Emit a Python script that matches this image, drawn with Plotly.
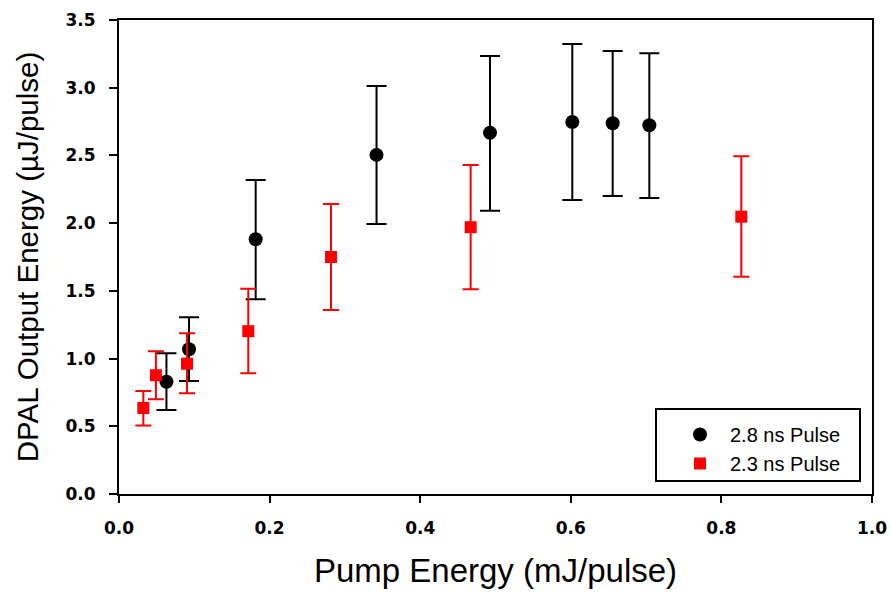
import plotly.graph_objects as go

# 2.8 ns pulse (black circles)
x_28 = [0.063, 0.093, 0.1815, 0.342, 0.4927, 0.602, 0.6556, 0.7043]
y_28 = [0.829, 1.069, 1.881, 2.504, 2.668, 2.747, 2.738, 2.723]
err_up_28 = [0.210, 0.236, 0.438, 0.509, 0.567, 0.576, 0.534, 0.532]
err_dn_28 = [0.209, 0.234, 0.443, 0.510, 0.576, 0.576, 0.537, 0.537]

# 2.3 ns pulse (red squares)
x_23 = [0.0323, 0.049, 0.0903, 0.1717, 0.2815, 0.467, 0.8264]
y_23 = [0.635, 0.877, 0.962, 1.202, 1.750, 1.970, 2.048]
err_up_23 = [0.126, 0.177, 0.225, 0.314, 0.392, 0.460, 0.446]
err_dn_23 = [0.130, 0.178, 0.218, 0.311, 0.391, 0.458, 0.443]

x_ticks = [0.0, 0.2, 0.4, 0.6, 0.8, 1.0]
y_ticks = [0.0, 0.5, 1.0, 1.5, 2.0, 2.5, 3.0, 3.5]

fig = go.Figure()
fig.add_trace(go.Scatter(
    x=x_28, y=y_28, mode="markers", name="2.8 ns Pulse",
    marker=dict(symbol="circle", size=14, color="black"),
    error_y=dict(type="data", symmetric=False, array=err_up_28, arrayminus=err_dn_28,
                 color="black", thickness=2, width=10),
))
fig.add_trace(go.Scatter(
    x=x_23, y=y_23, mode="markers", name="2.3 ns Pulse",
    marker=dict(symbol="square", size=12, color="#ff0000"),
    error_y=dict(type="data", symmetric=False, array=err_up_23, arrayminus=err_dn_23,
                 color="#ff0000", thickness=2, width=8),
))

tickfont = dict(family="DejaVu Sans", size=17, color="black", weight="bold")

L, R, T, B = 119, 872, 20, 494
pw, ph = R - L, B - T

def px(x):
    return (x - L) / pw

def py(y):
    return (B - y) / ph

# legend box drawn as a shape
fig.add_shape(type="rect", xref="paper", yref="paper",
              x0=px(656), x1=px(860), y0=py(481), y1=py(409),
              line=dict(color="black", width=2), fillcolor="white", layer="below")

fig.update_layout(
    width=891, height=592,
    margin=dict(l=L, r=891 - R, t=T, b=592 - B),
    plot_bgcolor="white", paper_bgcolor="white",
    showlegend=True,
    legend=dict(
        x=px(670), xanchor="left",
        y=py(415), yanchor="top",
        borderwidth=0, bgcolor="rgba(0,0,0,0)",
        font=dict(family="Liberation Sans, Arial, sans-serif", size=20, color="black"),
        itemwidth=50, tracegroupgap=0,
    ),
    xaxis=dict(
        range=[0, 1.0], tickvals=x_ticks, ticktext=[f"{v:.1f}" for v in x_ticks],
        showgrid=False, zeroline=False, showline=True, linecolor="black", linewidth=2,
        mirror=True, ticks="outside", ticklen=7, tickwidth=2, tickcolor="black",
        tickfont=tickfont, ticklabelstandoff=11, automargin=False,
        title=dict(text="Pump Energy (mJ/pulse)",
                   font=dict(family="Liberation Sans, Arial, sans-serif", size=33, color="black"),
                   standoff=21),
    ),
    yaxis=dict(
        range=[0, 3.5], tickvals=y_ticks, ticktext=[f"{v:.1f}" for v in y_ticks],
        showgrid=False, zeroline=False, showline=True, linecolor="black", linewidth=2,
        mirror=True, ticks="outside", ticklen=8, tickwidth=2, tickcolor="black",
        tickfont=tickfont, ticklabelstandoff=10, automargin=False,
        title=dict(text="DPAL Output Energy (µJ/pulse)",
                   font=dict(family="Liberation Sans, Arial, sans-serif", size=29.5, color="black"),
                   standoff=18),
    ),
)

fig.write_html("out.html", config={"displayModeBar": False},
               post_script="document.body.style.margin='0';document.body.style.overflow='hidden';")
